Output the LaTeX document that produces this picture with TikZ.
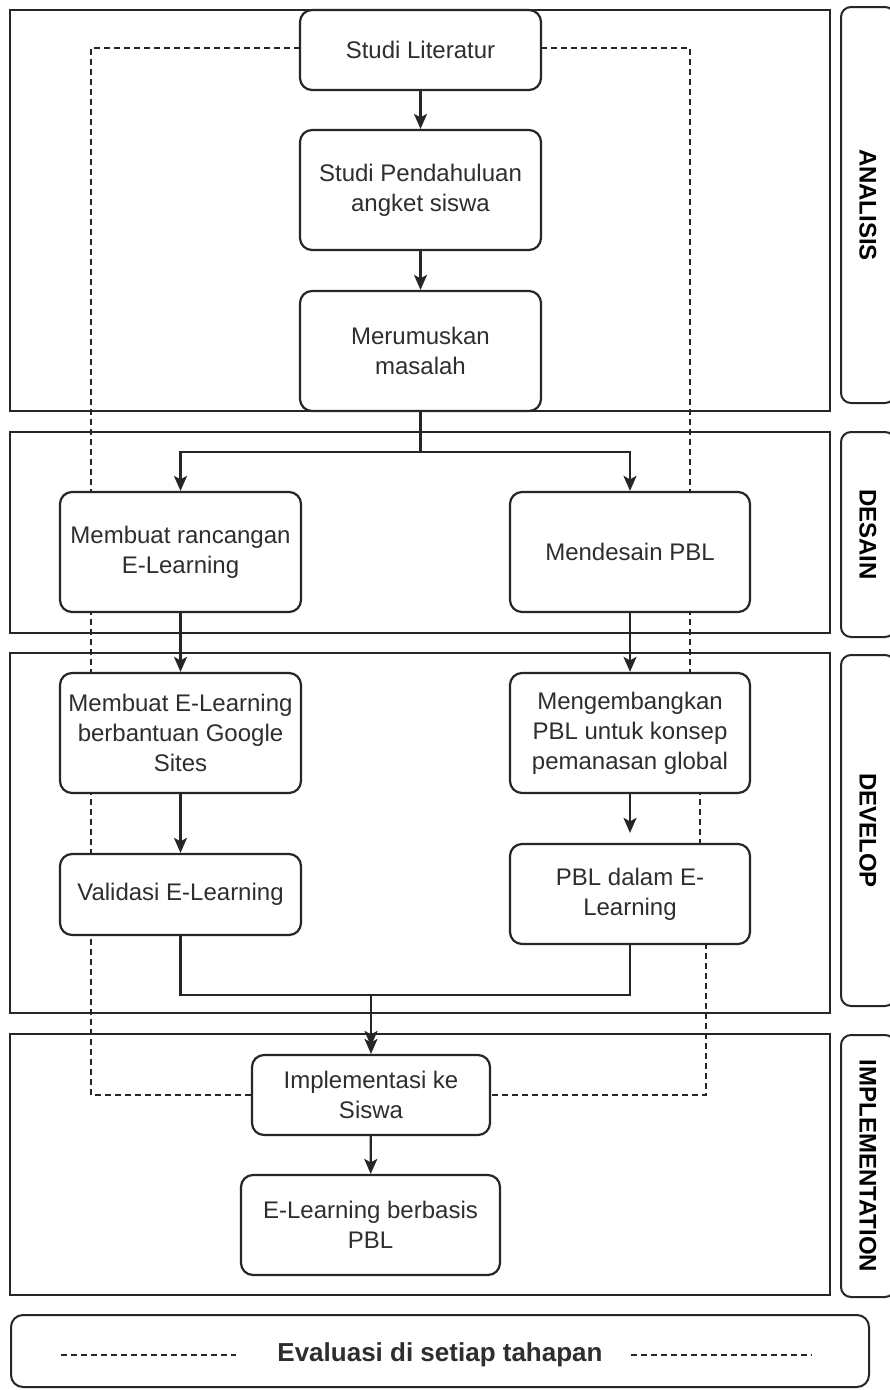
\documentclass[tikz,border=0pt]{standalone}
\usepackage{fontspec}
\setmainfont{Liberation Sans}
\usetikzlibrary{arrows.meta}
\definecolor{ink}{HTML}{262626}
\definecolor{txt}{HTML}{2E2E2E}
\begin{document}
\begin{tikzpicture}[x=1pt,y=-1pt,
  box/.style={draw=ink, line width=2.2pt, rounded corners=12pt, fill=white,
    align=center, font=\fontsize{24}{30}\selectfont, text=txt, inner sep=0pt},
  phase/.style={draw=ink, line width=2.2pt},
  sidebox/.style={draw=ink, line width=2pt, rounded corners=10pt, inner sep=0pt},
  sidetext/.style={rotate=-90, font=\bfseries\fontsize{24}{24}\selectfont, text=black},
  arr/.style={draw=ink, line width=2.2pt, -{Stealth[length=15pt,width=13pt,inset=3.5pt]}},
  conn/.style={draw=ink, line width=2.2pt},
  dsh/.style={draw=ink, line width=1.7pt, dash pattern=on 6pt off 4pt}]
\useasboundingbox (0,0) rectangle (890,1390);
\clip (0,0) rectangle (890,1390);
\fill[white] (0,0) rectangle (890,1390);

% phase frames
\draw[phase] (10,10) rectangle (830,411);
\draw[phase] (10,432) rectangle (830,633);
\draw[phase] (10,653) rectangle (830,1013);
\draw[phase] (10,1034) rectangle (830,1295);

% side labels
\node[sidebox, minimum width=54pt, minimum height=396pt] (sa) at (868,205) {};
\node[sidetext] at (sa) {ANALISIS};
\node[sidebox, minimum width=54pt, minimum height=205pt] (sd) at (868,534.5) {};
\node[sidetext] at (sd) {DESAIN};
\node[sidebox, minimum width=54pt, minimum height=351pt] (sv) at (868,830.5) {};
\node[sidetext] at (sv) {DEVELOP};
\node[sidebox, minimum width=54pt, minimum height=262pt] (si) at (868,1166) {};
\node[sidetext] at (si) {IMPLEMENTATION};

% coordinates for dashed evaluation loop
\coordinate (l1) at (91,48);
\coordinate (l2) at (91,1095);
\coordinate (r1) at (690,48);
\coordinate (r2) at (690,733);
\coordinate (r3) at (700,733);
\coordinate (r4) at (700,893);
\coordinate (r5) at (706,893);
\coordinate (r6) at (706,1095);
\draw[dsh] (300,48) -- (l1) -- (l2) -- (252,1095);
\draw[dsh] (541,48) -- (r1) -- (r2) -- (r3) -- (r4) -- (r5) -- (r6) -- (490,1095);

% process boxes
\node[box, minimum width=241pt, minimum height=80pt] (sl) at (420.5,50) {Studi Literatur};
\node[box, minimum width=241pt, minimum height=120pt] (sp) at (420.5,190) {Studi Pendahuluan\\angket siswa};
\node[box, minimum width=241pt, minimum height=120pt] (mm) at (420.5,351) {Merumuskan\\masalah};
\node[box, minimum width=241pt, minimum height=120pt] (mr) at (180.5,552) {Membuat rancangan\\E-Learning};
\node[box, minimum width=240pt, minimum height=120pt] (md) at (630,552) {Mendesain PBL};
\node[box, minimum width=241pt, minimum height=120pt] (me) at (180.5,733) {Membuat E-Learning\\berbantuan Google\\Sites};
\node[box, minimum width=240pt, minimum height=120pt] (mk) at (630,733) {Mengembangkan\\PBL untuk konsep\\pemanasan global};
\node[box, minimum width=241pt, minimum height=81pt] (val) at (180.5,894.5) {Validasi E-Learning};
\node[box, minimum width=240pt, minimum height=100pt] (pd) at (630,894) {PBL dalam E-\\Learning};
\node[box, minimum width=238pt, minimum height=80pt] (impl) at (371,1095) {Implementasi ke\\Siswa};
\node[box, minimum width=259pt, minimum height=100pt] (eb) at (370.5,1225) {E-Learning berbasis\\PBL};

% connectors
\draw[arr] (sl) -- (sp);
\draw[arr] (sp) -- (mm);
\coordinate (b1) at (420.5,452);
\draw[conn] (mm.south) -- (b1);
\draw[arr] (b1) -| (mr.north);
\draw[arr] (b1) -| (md.north);
\draw[arr] (mr) -- (me);
\draw[arr] (md) -- (mk);
\draw[arr] (me) -- (val);
\draw[arr, shorten >=10pt] (mk) -- (pd);
\coordinate (b2) at (371,995);
\draw[arr] (val.south) |- (b2) -- (impl.north);
\draw[arr, shorten >=8pt] (pd.south) |- (b2) -- (impl.north);
\draw[arr] (impl) -- (eb);

% evaluation box
\node[draw=ink, line width=2pt, rounded corners=12pt, minimum width=858pt, minimum height=72pt, inner sep=0pt] (ev) at (440,1351) {};
\node[font=\bfseries\fontsize{26}{26}\selectfont, text=txt] (evt) at (440,1355) {Evaluasi di setiap tahapan};
\coordinate (e1) at (61,1355);
\coordinate (e2) at (236,1355);
\coordinate (e3) at (631,1355);
\coordinate (e4) at (812,1355);
\draw[dsh] (e1) -- (e2);
\draw[dsh] (e3) -- (e4);
\end{tikzpicture}
\end{document}
